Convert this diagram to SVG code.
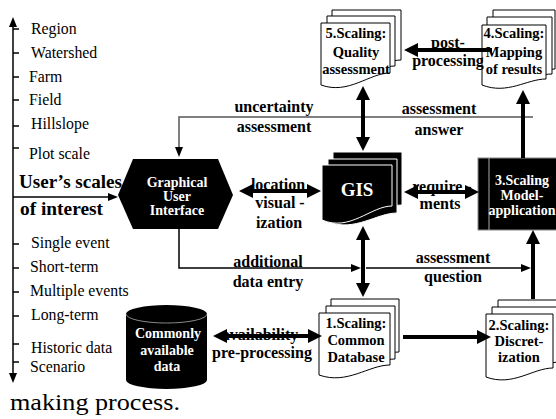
<svg xmlns="http://www.w3.org/2000/svg" width="556" height="419" viewBox="0 0 556 419">
<defs>
<style>
text{font-family:"Liberation Serif","Times New Roman",serif}
.lbl{font-size:16px;font-weight:bold;text-anchor:middle;fill:#000}
.item{font-size:15.8px;fill:#000}
.wn{font-size:14px;font-weight:bold;text-anchor:middle;fill:#fff}
.dt{font-size:14.5px;font-weight:bold;text-anchor:middle;fill:#000}
.thick{stroke:#000;stroke-width:4;fill:none}
.thin{stroke:#000;stroke-width:1.5;fill:none}
.page{fill:#fff;stroke:#000;stroke-width:1}
.bpage{fill:#000;stroke:#fff;stroke-width:1}
.tick{stroke:#000;stroke-width:1.5}
</style>
<marker id="ah" viewBox="0 0 14 14" refX="2" refY="7" markerWidth="14" markerHeight="14" markerUnits="userSpaceOnUse" orient="auto-start-reverse"><path d="M0,0 L14,7 L0,14 z" fill="#000"/></marker>
<marker id="at" viewBox="0 0 10 8" refX="1" refY="4" markerWidth="10" markerHeight="8" markerUnits="userSpaceOnUse" orient="auto-start-reverse"><path d="M0,0 L10,4 L0,8 z" fill="#000"/></marker>
</defs>
<rect width="556" height="419" fill="#fff"/>

<g id="scale-axis">
<path class="thin" d="M13,26 V374" marker-start="url(#at)" marker-end="url(#at)"/>
<path class="thin" d="M13,197 H109" marker-end="url(#at)"/>
<line class="tick" x1="13" y1="29" x2="19" y2="29"/>
<line class="tick" x1="13" y1="53" x2="19" y2="53"/>
<line class="tick" x1="13" y1="77" x2="19" y2="77"/>
<line class="tick" x1="13" y1="100" x2="19" y2="100"/>
<line class="tick" x1="13" y1="126" x2="19" y2="126"/>
<line class="tick" x1="13" y1="148" x2="19" y2="148"/>
<line class="tick" x1="13" y1="244" x2="19" y2="244"/>
<line class="tick" x1="13" y1="268" x2="19" y2="268"/>
<line class="tick" x1="13" y1="292" x2="19" y2="292"/>
<line class="tick" x1="13" y1="316" x2="19" y2="316"/>
<line class="tick" x1="13" y1="344" x2="19" y2="344"/>
<line class="tick" x1="13" y1="362" x2="19" y2="362"/>
<text class="item" x="31" y="34">Region</text>
<text class="item" x="31" y="58">Watershed</text>
<text class="item" x="29" y="82">Farm</text>
<text class="item" x="29" y="105">Field</text>
<text class="item" x="31" y="129">Hillslope</text>
<text class="item" x="29" y="159">Plot scale</text>
<text x="19" y="188" font-size="18" font-weight="bold" textLength="103" lengthAdjust="spacingAndGlyphs">User’s scales</text>
<text x="20" y="215" font-size="18" font-weight="bold" textLength="83" lengthAdjust="spacingAndGlyphs">of interest</text>
<text class="item" x="31" y="248">Single event</text>
<text class="item" x="30" y="272">Short-term</text>
<text class="item" x="30" y="296">Multiple events</text>
<text class="item" x="31" y="320">Long-term</text>
<text class="item" x="31" y="353">Historic data</text>
<text class="item" x="30" y="372">Scenario</text>
</g>

<text x="10" y="410" font-size="24" textLength="170" lengthAdjust="spacingAndGlyphs">making process.</text>

<g id="gui">
<polygon points="118,195 133,159 218,159 233,195 218,229 133,229" fill="#000"/>
<text class="wn" x="177" y="187">Graphical</text>
<text class="wn" x="177" y="201">User</text>
<text class="wn" x="177" y="215">Interface</text>
</g>

<g id="gis">
<path class="bpage" d="M333,152 H402 V205 C381.3,205 360.6,225 333,215 Z"/>
<path class="bpage" d="M328,159 H397 V213 C376.3,213 355.6,232 328,222 Z"/>
<path class="bpage" d="M322,165 H392 V206 C371,206 350,232 322,220 Z"/>
<text x="357" y="196" font-size="19" font-weight="bold" fill="#fff" text-anchor="middle">GIS</text>
</g>

<g id="model">
<rect x="478" y="158" width="82" height="72" fill="#000" stroke="#888" stroke-width="1"/>
<line x1="489" y1="158" x2="489" y2="230" stroke="#aaa" stroke-width="1"/>
<text class="wn" x="522" y="185">3.Scaling</text>
<text class="wn" x="522" y="200">Model-</text>
<text class="wn" x="522" y="215">application</text>
</g>

<g id="doc5">
<path class="page" d="M332,10 H401 V60 C380.3,60 359.6,82 332,72 Z"/>
<path class="page" d="M327,16 H395 V66 C374.6,66 354.2,88 327,78 Z"/>
<path class="page" d="M321,23 H390 V73 C369.3,73 348.6,95 321,85 Z"/>
<text class="dt" x="356" y="38">5.Scaling:</text>
<text class="dt" x="356" y="57">Quality</text>
<text class="dt" x="356" y="74">assessment</text>
</g>

<g id="doc4">
<path class="page" d="M493,10 H555 V69 C537.8,69 518.6,85 493,75 Z"/>
<path class="page" d="M487,17 H552 V74 C532.5,74 513,90 487,80 Z"/>
<path class="page" d="M482,25 H546 V79 C526.8,79 507.6,95 482,85 Z"/>
<text class="dt" x="514" y="38">4.Scaling:</text>
<text class="dt" x="514" y="57">Mapping</text>
<text class="dt" x="514" y="74">of results</text>
</g>

<g id="doc1">
<path class="page" d="M331,299 H399 V352 C378.6,352 358.2,371 331,361 Z"/>
<path class="page" d="M326,306 H395 V359 C374.3,359 353.6,378 326,368 Z"/>
<path class="page" d="M319,313 H390 V365 C368.7,365 347.4,385 319,375 Z"/>
<text class="dt" x="356" y="328">1.Scaling:</text>
<text class="dt" x="356" y="345">Common</text>
<text class="dt" x="356" y="362">Database</text>
</g>

<g id="doc2">
<path class="page" d="M498,300 H566 V356 C545.6,356 525.2,374 498,364 Z"/>
<path class="page" d="M492,307 H560 V362 C539.6,362 519.2,380 492,370 Z"/>
<path class="page" d="M486,314 H553 V368 C532.9,368 512.8,387 486,377 Z"/>
<text class="dt" x="519" y="330">2.Scaling:</text>
<text class="dt" x="519" y="346">Discret-</text>
<text class="dt" x="519" y="362">ization</text>
</g>

<g id="data">
<path d="M126,314 V380 A40.5,9 0 0 0 207,380 V314 A40.5,9 0 0 0 126,314 Z" fill="#000"/>
<path d="M126,314 A40.5,9 0 0 0 207,314" fill="none" stroke="#aaa" stroke-width="0.8"/>
<text class="wn" x="168" y="338">Commonly</text>
<text class="wn" x="167" y="355">available</text>
<text class="wn" x="167" y="371">data</text>
</g>

<g id="labels">
<text class="lbl" x="274" y="112">uncertainty</text>
<text class="lbl" x="274" y="132">assessment</text>
<text class="lbl" x="439" y="114">assessment</text>
<text class="lbl" x="439" y="135">answer</text>
<text class="lbl" x="448" y="48">post-</text>
<text class="lbl" x="448" y="66">processing</text>
<text class="lbl" x="278" y="190">location</text>
<text class="lbl" x="280" y="208">visual -</text>
<text class="lbl" x="279" y="228">ization</text>
<text class="lbl" x="442" y="192">require -</text>
<text class="lbl" x="440" y="209">ments</text>
<text class="lbl" x="268" y="267">additional</text>
<text class="lbl" x="268" y="287">data entry</text>
<text class="lbl" x="453" y="263">assessment</text>
<text class="lbl" x="453" y="282">question</text>
<text class="lbl" x="260" y="340">availability</text>
<text class="lbl" x="262" y="358">pre-processing</text>
</g>

<g id="connectors">
<path d="M533,117 H179 V148" fill="none" stroke="#555" stroke-width="1.5" marker-end="url(#at)"/>
<path class="thin" d="M179,229 V268 H352" marker-end="url(#at)"/>
<path class="thin" d="M366,268 H522" marker-end="url(#at)"/>
<path class="thick" d="M363,98 V139" marker-start="url(#ah)" marker-end="url(#ah)"/>
<path class="thick" d="M363,238 V285" marker-start="url(#ah)" marker-end="url(#ah)"/>
<path class="thick" d="M251,191 H309" marker-start="url(#ah)" marker-end="url(#ah)"/>
<path class="thick" d="M416,192 H467" marker-start="url(#ah)" marker-end="url(#ah)"/>
<path class="thick" d="M492,50 H416" marker-end="url(#ah)"/>
<path class="thick" d="M523,158 V102" marker-end="url(#ah)"/>
<path class="thick" d="M533,299 V242" marker-end="url(#ah)"/>
<path class="thick" d="M403,337 H479" marker-end="url(#ah)"/>
<path class="thick" d="M225,336 H310" marker-start="url(#ah)" marker-end="url(#ah)"/>
</g>
</svg>
